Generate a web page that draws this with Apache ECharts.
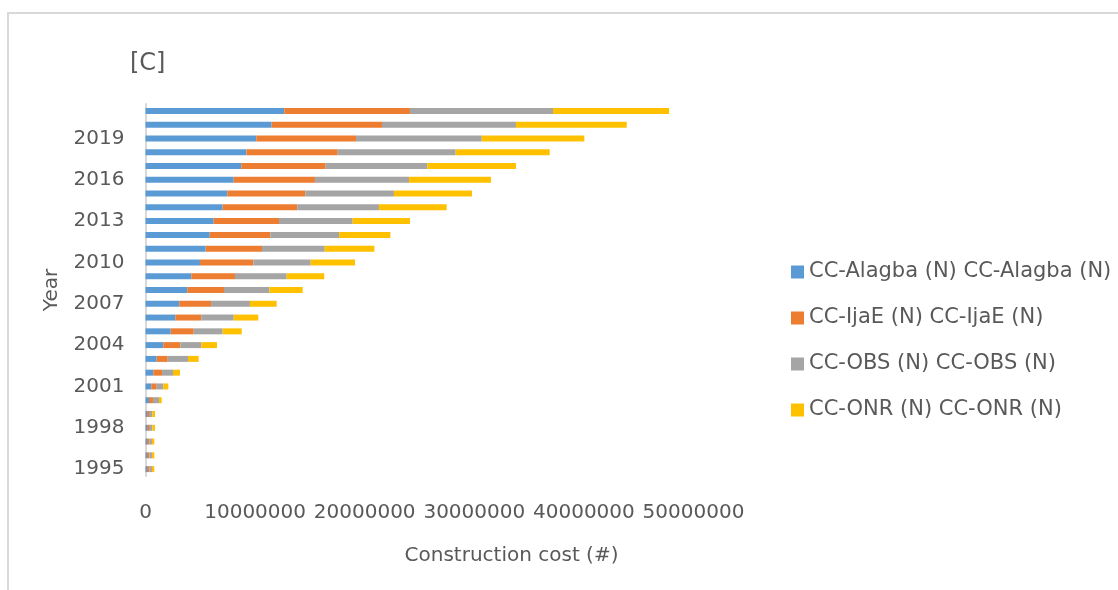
<!DOCTYPE html>
<html>
<head>
<meta charset="utf-8">
<script src="https://cdn.jsdelivr.net/npm/echarts@6/dist/echarts.min.js"></script>
<style>
  html, body { margin: 0; padding: 0; background: #fff; overflow: hidden; }
  #frame { position: absolute; left: 7px; top: 12px; width: 1120px; height: 590px; border: 2px solid #d9d9d9; box-sizing: border-box; }
  #chart { position: absolute; left: 0; top: 0; width: 1118px; height: 590px; }
</style>
</head>
<body>
<div id="frame"></div>
<div id="chart"></div>
<script>
// years bottom -> top
const years = ['1995', '1996', '1997', '1998', '1999', '2000', '2001', '2002', '2003', '2004',
  '2005', '2006', '2007', '2008', '2009', '2010', '2011', '2012', '2013', '2014',
  '2015', '2016', '2017', '2018', '2019', '2020', '2021']

const seriesNames = [
  'CC-Alagba (N) CC-Alagba (N)',
  'CC-IjaE (N) CC-IjaE (N)',
  'CC-OBS (N) CC-OBS (N)',
  'CC-ONR (N) CC-ONR (N)'
]

// construction cost (naira)
const ccAlagba = [140000, 140000, 140000, 140000, 140000, 320000, 530000, 710000, 1020000, 1620000,
  2300000, 2720000, 3080000, 3810000, 4180000, 4970000, 5490000, 5860000, 6220000, 7040000,
  7460000, 8050000, 8740000, 9200000, 10110000, 11510000, 12660000]
const ccIjaE = [210000, 210000, 210000, 180000, 180000, 360000, 490000, 800000, 1010000, 1560000,
  2100000, 2370000, 2900000, 3350000, 3990000, 4870000, 5140000, 5530000, 5960000, 6810000,
  7120000, 7420000, 7700000, 8340000, 9100000, 10070000, 11470000]
const ccOBS = [240000, 240000, 240000, 300000, 300000, 550000, 600000, 1000000, 1850000, 1910000,
  2640000, 2960000, 3550000, 4140000, 4710000, 5230000, 5720000, 6270000, 6720000, 7450000,
  8090000, 8570000, 9270000, 10760000, 11470000, 12220000, 13050000]
const ccONR = [210000, 210000, 210000, 250000, 250000, 250000, 460000, 640000, 970000, 1430000,
  1740000, 2240000, 2440000, 3040000, 3430000, 4040000, 4530000, 4680000, 5230000, 6180000,
  7120000, 7480000, 8090000, 8580000, 9360000, 10110000, 10590000]

const colors = ['#5B9BD5', '#ED7D31', '#A5A5A5', '#FFC000']
const txt = '#595959'
const font = 'DejaVu Sans'

const chart = echarts.init(document.getElementById('chart'))

const makeSeries = (name, data, i) => ({
  name,
  type: 'bar',
  stack: 'total',
  data,
  barWidth: 6,
  itemStyle: { color: colors[i] }
})

chart.setOption({
  backgroundColor: 'transparent',
  animation: false,
  color: colors,
  title: {
    text: '[C]',
    left: 125,
    top: 47,
    textStyle: { fontFamily: font, fontSize: 24, fontWeight: 'normal', color: txt }
  },
  legend: {
    orient: 'vertical',
    left: 786,
    top: 255,
    itemWidth: 13,
    itemHeight: 13,
    itemGap: 22,
    icon: 'rect',
    textStyle: { fontFamily: font, fontSize: 21, color: txt, lineHeight: 24 },
    data: seriesNames
  },
  grid: {
    left: 145.5,
    right: 424.5,
    top: 104,
    bottom: 114,
    containLabel: false
  },
  xAxis: {
    type: 'value',
    min: 0,
    max: 50000000,
    interval: 10000000,
    name: 'Construction cost (#)',
    nameLocation: 'middle',
    nameGap: 70,
    nameTextStyle: { fontFamily: font, fontSize: 20, color: txt, padding: [0, 0, 0, 184] },
    axisLine: { show: false },
    axisTick: { show: false },
    splitLine: { show: false },
    axisLabel: {
      fontFamily: font,
      fontSize: 20,
      color: txt,
      margin: 27,
      hideOverlap: false,
      showMaxLabel: true,
      formatter: v => String(v)
    }
  },
  yAxis: {
    type: 'category',
    data: years,
    name: 'Year',
    nameLocation: 'middle',
    nameGap: 84,
    nameTextStyle: { fontFamily: font, fontSize: 20, color: txt },
    axisLine: { show: true, lineStyle: { color: '#d9d9d9', width: 2 } },
    axisTick: { show: false },
    axisLabel: { fontFamily: font, fontSize: 20, color: txt, margin: 21, interval: 2 }
  },
  series: [
    makeSeries(seriesNames[0], ccAlagba, 0),
    makeSeries(seriesNames[1], ccIjaE, 1),
    makeSeries(seriesNames[2], ccOBS, 2),
    makeSeries(seriesNames[3], ccONR, 3)
  ]
})
</script>
</body>
</html>
